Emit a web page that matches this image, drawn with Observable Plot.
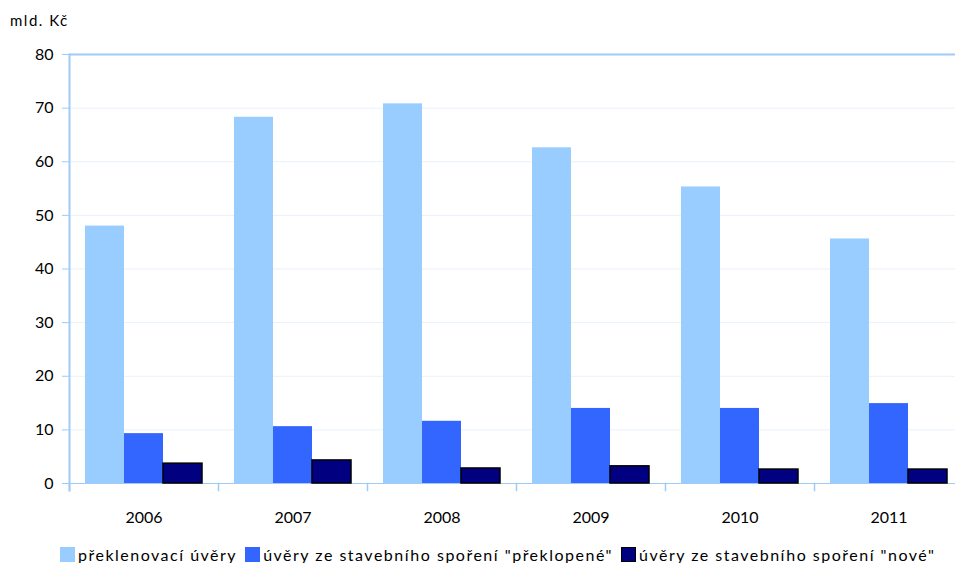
<!DOCTYPE html>
<html>
<head>
<meta charset="utf-8">
<script src="https://cdn.jsdelivr.net/npm/d3@7"></script>
<script src="https://cdn.jsdelivr.net/npm/@observablehq/plot@0.6"></script>
<style>
  html, body { margin: 0; padding: 0; background: #fff; overflow: hidden; }
  #wrap { position: relative; width: 955px; height: 563px; font-family: Lato, "Open Sans", sans-serif; color: #000; }
  #unit { position: absolute; left: 10px; top: 11px; font-size: 15px; letter-spacing: 1.5px; }
  #legend { position: absolute; left: 60px; top: 545px; display: flex; align-items: center; font-size: 16px; letter-spacing: 1.5px; white-space: nowrap; }
  .item { display: flex; align-items: center; margin-right: 8px; }
  .sw { width: 15px; height: 15px; margin-right: 3px; box-sizing: border-box; }
</style>
</head>
<body>
<div id="wrap">
  <div id="chart"></div>
  <div id="unit">mld. Kč</div>
  <div id="legend"></div>
</div>
<script>
const years = ["2006", "2007", "2008", "2009", "2010", "2011"];
const seriesNames = [
  "překlenovací úvěry",
  "úvěry ze stavebního spoření \"překlopené\"",
  "úvěry ze stavebního spoření \"nové\""
];
const preklenovaci = [48.0, 68.3, 70.8, 62.6, 55.3, 45.6];
const preklopene = [9.3, 10.6, 11.6, 14.0, 14.0, 14.9];
const nove = [3.7, 4.3, 2.8, 3.2, 2.6, 2.6];
const yTicks = [0, 10, 20, 30, 40, 50, 60, 70, 80];
const colors = ["#99ccff", "#3366ff", "#000080"];

const seriesValues = [preklenovaci, preklopene, nove];
const data = [];
years.forEach((yr, i) => {
  seriesNames.forEach((s, j) => data.push({year: yr, series: s, value: seriesValues[j][i]}));
});

const W = 955, H = 535, mT = 54, mB = 52, mL = 68, mR = -8.5;
const axisColor = "#9fcbf6";

const chart = Plot.plot({
  width: W,
  height: H,
  marginTop: mT,
  marginBottom: mB,
  marginLeft: mL,
  marginRight: mR,
  style: {overflow: "hidden", fontFamily: "Lato, 'Open Sans', sans-serif", background: "#fff"},
  fx: {domain: years, padding: 0, label: null},
  x: {domain: seriesNames, paddingInner: 0, paddingOuter: 0.375, axis: null},
  y: {domain: [0, 80], label: null},
  color: {domain: seriesNames, range: colors},
  marks: [
    Plot.gridY(yTicks, {stroke: "#e9f1fb", strokeOpacity: 1}),
    Plot.ruleY([0], {stroke: axisColor, strokeWidth: 1}),
    Plot.ruleY([80], {stroke: axisColor, strokeWidth: 2}),
    Plot.barY(data, {fx: "year", x: "series", y: "value", fill: "series"}),
    Plot.barY(data.filter(d => d.series === seriesNames[2]), {fx: "year", x: "series", y: "value", fill: "none", stroke: "#000", strokeWidth: 1.5}),
    Plot.frame({anchor: "left", facetAnchor: "left", stroke: axisColor, strokeWidth: 2, insetBottom: -7}),
    Plot.frame({anchor: "left", stroke: axisColor, strokeWidth: 1.5, insetTop: H - mT - mB, insetBottom: -7}),
    Plot.axisY(yTicks, {tickSize: 7, tickPadding: 9, stroke: axisColor, fill: "#000", fontSize: 16, label: null}),
    Plot.axisFx({anchor: "bottom", tickSize: 0, tickPadding: 28, fontSize: 16, fill: "#000", label: null})
  ]
});
document.getElementById("chart").appendChild(chart);

const legend = document.getElementById("legend");
seriesNames.forEach((s, j) => {
  const item = document.createElement("div");
  item.className = "item";
  const sw = document.createElement("div");
  sw.className = "sw";
  sw.style.background = colors[j];
  if (j === 2) sw.style.border = "1.5px solid #000";
  const t = document.createElement("span");
  t.textContent = s;
  item.appendChild(sw);
  item.appendChild(t);
  legend.appendChild(item);
});
</script>
</body>
</html>
